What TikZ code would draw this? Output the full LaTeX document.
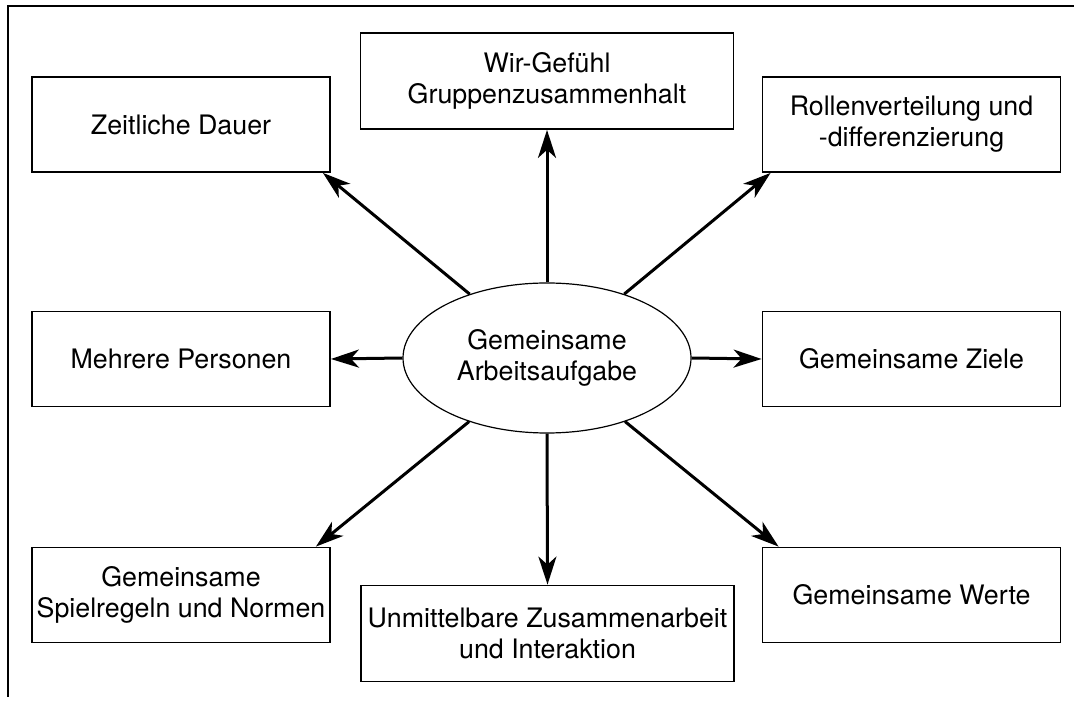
\documentclass[tikz,border=0pt]{standalone}
\usepackage{fontspec}
\setmainfont{TeX Gyre Heros}
\usetikzlibrary{arrows.meta,shapes.geometric,calc}

\begin{document}
\begin{tikzpicture}[x=0.5pt,y=-0.5pt,
  kasten/.style={draw, line width=0.9pt, inner sep=0pt, align=center,
    minimum width=149pt, minimum height=47.5pt, font=\fontsize{13.4}{15.5}\selectfont},
  breit/.style={kasten, minimum width=186.5pt, minimum height=48pt},
  pfeil/.style={line width=1.5pt, -{Stealth[length=14pt, width=9pt, inset=4pt]}}]
\useasboundingbox (0,0) rectangle (1074,704);
\draw[line width=0.9pt] (1074,6) -- (8,6) -- (8,697);
\node[draw, ellipse, line width=0.6pt, inner sep=0pt, minimum width=144pt, minimum height=75pt,
  align=center, font=\fontsize{13.4}{15.5}\selectfont] (aufgabe) at (547,358) {Gemeinsame\\Arbeitsaufgabe};
\node[kasten] (zeit) at (181,124.5) {Zeitliche Dauer};
\node[breit] (wir) at (547,81) {Wir-Gefühl\\Gruppenzusammenhalt};
\node[kasten] (rollen) at (911.5,124.5) {Rollenverteilung und\\-differenzierung};
\node[kasten] (mehrere) at (181,359) {Mehrere Personen};
\node[kasten] (ziele) at (911.5,359) {Gemeinsame Ziele};
\node[kasten] (spiel) at (181,595) {Gemeinsame\\Spielregeln und Normen};
\node[breit] (unmit) at (547.5,633.5) {Unmittelbare Zusammenarbeit\\und Interaktion};
\node[kasten] (werte) at (911.5,595) {Gemeinsame Werte};
% Pfeile vom Zentrum nach aussen
\draw[pfeil] (aufgabe) -- ($(zeit.south east)+(-8,0)$);
\draw[pfeil] (aufgabe.north) -- (wir.south);
\draw[pfeil] (aufgabe) -- ($(rollen.south west)+(9,0)$);
\draw[pfeil] (aufgabe.west) -- (mehrere.east);
\draw[pfeil] (aufgabe.east) -- (ziele.west);
\draw[pfeil] (aufgabe) -- ($(spiel.north east)+(-15,0)$);
\draw[pfeil] (aufgabe.south) -- (unmit.north);
\draw[pfeil] (aufgabe) -- ($(werte.north west)+(17,0)$);
\end{tikzpicture}
\end{document}
